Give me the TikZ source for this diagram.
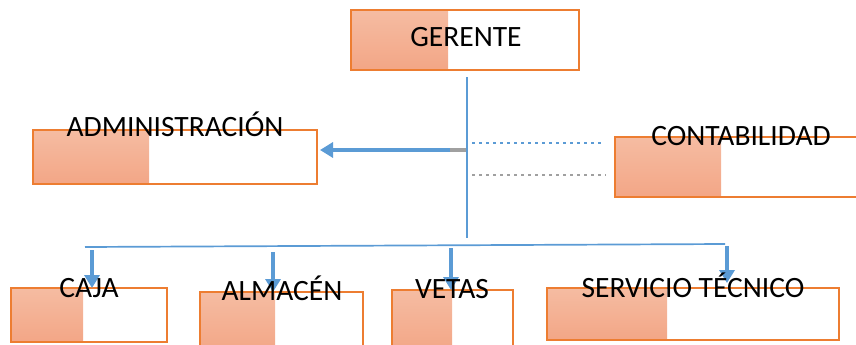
\documentclass[tikz,border=0pt]{standalone}
\usepackage{fontspec}
\setmainfont{Carlito}
\usetikzlibrary{arrows.meta}
\definecolor{fT}{RGB}{245,188,162}
\definecolor{fB}{RGB}{243,166,134}
\definecolor{bord}{RGB}{237,125,49}
\definecolor{lblue}{RGB}{91,155,213}
\definecolor{lgray}{RGB}{160,160,160}
\newcommand\obox[6]{%
  \shade[top color=fT,bottom color=fB] (#2,#3) rectangle (#6,#5);
  \node[obox,minimum width={(#4-#2)*1pt},minimum height={(#5-#3)*1pt}] (#1) at ({(#2+#4)/2},{(#3+#5)/2}) {};}
\begin{document}
\begin{tikzpicture}[x=1pt,y=-1pt,
  obox/.style={draw=bord,line width=1.5pt,inner sep=0pt,outer sep=0pt},
  lbl/.style={font=\fontsize{29.5}{31}\selectfont,anchor=base,inner sep=0pt},
  arr/.style={draw=lblue,line width=3.4pt,-{Triangle[length=13pt,width=15pt]}},
  thin/.style={draw=lblue,line width=1.7pt},
  dotb/.style={draw=lblue,line width=2.8pt,dash pattern=on 2.5pt off 4.5pt},
  dotg/.style={draw=lgray,line width=2.8pt,dash pattern=on 2.5pt off 4.5pt}]
\useasboundingbox (0,0) rectangle (856,345);
\clip (0,0) rectangle (856,345);
% boxes
\obox{ger}{351}{10}{579}{70}{448}
\obox{adm}{33}{130}{317}{184}{149}
\obox{con}{615}{137}{862}{197}{721}
\obox{caja}{11}{288}{167}{342}{83}
\obox{alm}{200}{292}{363}{352}{275}
\obox{vet}{392}{290}{513}{352}{452}
\obox{ser}{547}{288}{839}{340}{667}
% connectors
\coordinate (tEnd) at (467,238);
\draw[thin] (467,77) coordinate (tTop) -- (tEnd);
\coordinate (aStart) at (450,150);
\coordinate (aGray) at (466,150);
\draw[draw=lgray,line width=3.4pt] (aGray) -- (aStart);
\draw[arr] (aStart) -- ([xshift=3pt]adm.east |- aStart);
\coordinate (dbS) at (472,143);
\coordinate (dbE) at (604,143);
\draw[dotb] (dbS) -- (dbE);
\coordinate (dgS) at (472,175);
\coordinate (dgE) at (606,175);
\draw[dotg] (dgS) -- (dgE);
\coordinate (bL) at (85,247);
\coordinate (bR) at (725,244);
\draw[thin] (bL) -- (bR);
\coordinate (c1) at (92,250);
\coordinate (c2) at (273,252);
\coordinate (c3) at (451,248);
\coordinate (c4) at (727,246);
\draw[arr] (c1) -- (c1 |- caja.north);
\draw[arr] (c2) -- (c2 |- alm.north);
\draw[arr] (c3) -- (c3 |- vet.north);
\draw[arr] (c4) -- ([yshift=5pt]c4 |- ser.north);
% labels
\node[lbl] (tger) at (466,47) {GERENTE};
\node[lbl] (tadm) at (175,136) {ADMINISTRACIÓN};
\node[lbl] (tcon) at (741,145) {CONTABILIDAD};
\node[lbl] (tcaja) at (89,297) {CAJA};
\node[lbl] (talm) at (282,300) {ALMACÉN};
\node[lbl] (tvet) at (452,298) {VETAS};
\node[lbl] (tser) at (693,297) {SERVICIO TÉCNICO};
\end{tikzpicture}
\end{document}
